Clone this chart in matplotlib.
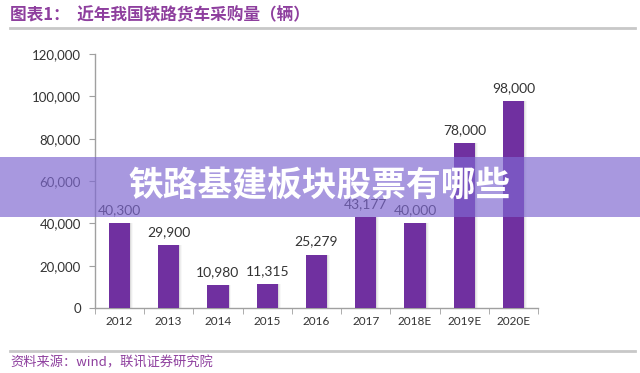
import matplotlib.pyplot as plt
import numpy as np
from matplotlib.patches import Rectangle
from matplotlib.lines import Line2D

plt.rcParams['font.family'] = ['Noto Sans CJK SC', 'DejaVu Sans']

years = ['2012', '2013', '2014', '2015', '2016', '2017', '2018E', '2019E', '2020E']
purchases = [40300, 29900, 10980, 11315, 25279, 43177, 40000, 78000, 98000]
y_ticks = [0, 20000, 40000, 60000, 80000, 100000, 120000]

title = '图表1：  近年我国铁路货车采购量（辆）'
banner = '铁路基建板块股票有哪些'
source = '资料来源：wind，联讯证券研究院'

fig = plt.figure(figsize=(6.4, 3.73), dpi=100)
ax = fig.add_axes([0.148, 0.174, 0.693, 0.681])

x = np.arange(len(years))
width = 0.43
# soft shadow to the right of each bar
for k, a in enumerate([0.16, 0.09, 0.05]):
    ax.bar(x + 0.02 + k * 0.02, purchases, width=width, color='#808080',
           alpha=a, zorder=1, linewidth=0)
rects = ax.bar(x, purchases, width=width, color='#7030a0', zorder=3, linewidth=0)

for rect in rects:
    h = rect.get_height()
    ax.annotate('{:,}'.format(h),
                xy=(rect.get_x() + rect.get_width() / 2, h),
                xytext=(0, 5), textcoords='offset points',
                ha='center', va='bottom', fontsize=10,
                color='#333333', family=['Lato', 'DejaVu Sans'])

ax.set_xlim(-0.5, len(years) - 0.5)
ax.set_ylim(0, 120000)
ax.set_yticks(y_ticks)
ax.set_yticklabels(['{:,}'.format(v) for v in y_ticks], fontsize=9.5,
                   color='#333333', family=['Lato', 'DejaVu Sans'])
ax.set_xticks(x)
ax.set_xticklabels(years, fontsize=8.5, color='#333333', family=['Lato', 'DejaVu Sans'])
ax.set_xticks(np.arange(-0.5, len(years)), minor=True)
ax.tick_params(axis='x', which='major', length=0, pad=6)
ax.tick_params(axis='x', which='minor', length=4, color='#a0a0a0', direction='out')
ax.tick_params(axis='y', length=4, color='#a0a0a0', direction='out', pad=6)
for s in ['top', 'right']:
    ax.spines[s].set_visible(False)
for s in ['left', 'bottom']:
    ax.spines[s].set_color('#a0a0a0')
    ax.spines[s].set_linewidth(1.0)

# header and footer
fig.text(0.016, 0.958, title, fontsize=12, fontweight='bold', color='#8e3f9e',
         ha='left', va='center')
fig.add_artist(Line2D([0.016, 0.992], [0.925, 0.925], color='#c8c8c8', linewidth=2))
fig.add_artist(Line2D([0.016, 0.992], [0.059, 0.059], color='#c8c8c8', linewidth=2))
fig.text(0.016, 0.027, source, fontsize=9.5, color='#8e3f9e', ha='left', va='center')

# overlay banner
fig.add_artist(Rectangle((0, 0.418), 1, 0.161, transform=fig.transFigure,
                         facecolor='#7f68d1', alpha=0.68, linewidth=0, zorder=10))
fig.text(0.5, 0.500, banner, fontsize=25, fontweight='heavy', color='white',
         ha='center', va='center', zorder=11)

fig.savefig('out.png', dpi=100)
